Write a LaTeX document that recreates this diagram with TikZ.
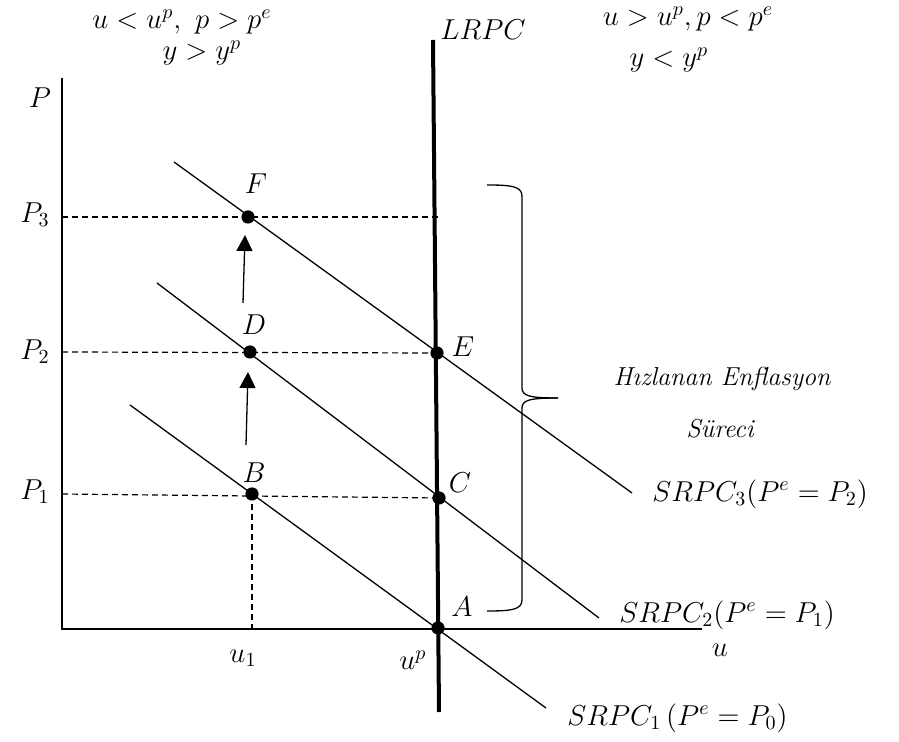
\documentclass[tikz,border=0pt]{standalone}
\usetikzlibrary{arrows.meta,positioning}
\begin{document}
\begin{tikzpicture}[x=0.5pt,y=-0.5pt,
    font=\fontsize{14}{17}\selectfont,
    curve/.style={line width=0.65pt},
    guide/.style={line width=0.6pt,dash pattern=on 3pt off 2pt},
    dot/.style={circle,fill,inner sep=0pt,minimum size=6.6pt},
    lbl/.style={inner sep=1pt},
    up/.style={line width=0.65pt,-{Triangle[length=8pt,width=8pt]}},
  ]
    \useasboundingbox (0,0) rectangle (899,742);
    % axes
    \coordinate (O) at (62,629);
    \coordinate (ytop) at (62,78);
    \coordinate (xend) at (702,629);
    \draw[curve] (ytop) -- (O) -- (xend);
    \node[lbl] (lP) at (40,98) {$P$};
    \node[lbl] (lu) at (720,650) {$u$};
    % equilibrium points
    \coordinate (A) at (438,628);
    \coordinate (B) at (252,494);
    \coordinate (C) at (439,498);
    \coordinate (D) at (250,352);
    \coordinate (E) at (437,353);
    \coordinate (F) at (248,217);
    % LRPC
    \coordinate (lrpcT) at (433,40);
    \coordinate (lrpcB) at (439,712);
    \draw[line width=2pt] (lrpcT) -- (lrpcB);
    \node[lbl] (lLRPC) at (483,30) {$LRPC$};
    % SRPC curves
    \coordinate (s1a) at (130,405);
    \coordinate (s1b) at (546,708);
    \coordinate (s2a) at (157,283);
    \coordinate (s2b) at (599,618);
    \coordinate (s3a) at (174,162);
    \coordinate (s3b) at (632,493);
    \draw[curve] (s1a) -- (s1b);
    \draw[curve] (s2a) -- (s2b);
    \draw[curve] (s3a) -- (s3b);
    \node[lbl,anchor=west] (lS1) at (565,718) {$SRPC_1\,(P^e=P_0)$};
    \node[lbl,anchor=west] (lS2) at (617,615) {$SRPC_2(P^e=P_1)$};
    \node[lbl,anchor=west] (lS3) at (650,494) {$SRPC_3(P^e=P_2)$};
    % guides
    \draw[guide] (O |- F) -- ([xshift=1.5pt]F -| E);
    \draw[guide] (O |- D) -- (E);
    \draw[guide] (O |- B) -- (C);
    \draw[guide] (B) -- (B |- O);
    \node[lbl] (lP3) at (35,215) {$P_3$};
    \node[lbl] (lP2) at (35,352) {$P_2$};
    \node[lbl] (lP1) at (35,492) {$P_1$};
    \node[lbl] (lu1) at (243,658) {$u_1$};
    \node[lbl] (lup) at (413,660) {$u^p$};
    % dots and letters
    \foreach \p in {A,B,C,D,E,F}
      \node[dot] at (\p) {};
    \node[lbl] (lA) at (462,607) {$A$};
    \node[lbl] (lB) at (254,473) {$B$};
    \node[lbl] (lC) at (460,483) {$C$};
    \node[lbl] (lD) at (254,325) {$D$};
    \node[lbl] (lE) at (463,347) {$E$};
    \node[lbl] (lF) at (256,184) {$F$};
    % arrows
    \coordinate (a1s) at (246,445);
    \coordinate (a1e) at (248,372);
    \coordinate (a2s) at (243,303);
    \coordinate (a2e) at (245,235);
    \draw[up] (a1s) -- (a1e);
    \draw[up] (a2s) -- (a2e);
    % brace
    \coordinate (brT) at (487,185);
    \coordinate (brM) at (558,398);
    \coordinate (brB) at (487,611);
    \draw[curve] (brT) .. controls (510,185) and (522,186) .. (522,196)
      -- (522,388) .. controls (522,396) and (530,398) .. (brM);
    \draw[curve] (brM) .. controls (530,398) and (522,400) .. (522,408)
      -- (522,600) .. controls (522,610) and (510,611) .. (brB);
    \node[inner sep=0pt,font=\fontsize{13}{15}\selectfont\itshape] (lHiz) at (722,379) {Hızlanan Enflasyon};
    \node[inner sep=0pt,font=\fontsize{13}{15}\selectfont\itshape] (lSur) at (720,429) {Süreci};
    % regions
    \node[lbl] (lL1) at (182,22) {$u<u^p,\ p>p^e$};
    \node[lbl] (lL2) at (202,53) {$y>y^p$};
    \node[inner sep=0pt] (lR1) at (688,19) {$u>u^p, p<p^e$};
    \node[lbl] (lR2) at (669,60) {$y<y^p$};
  \end{tikzpicture}
\end{document}
